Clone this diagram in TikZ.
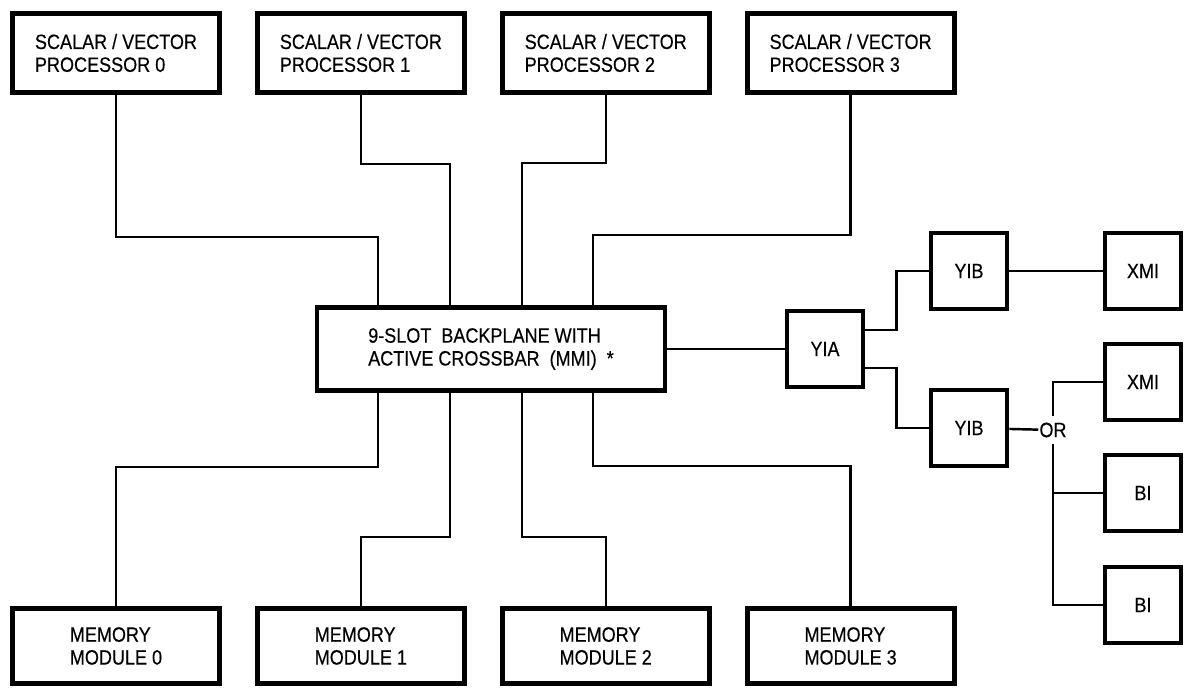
\documentclass[tikz,border=0pt]{standalone}
\usepackage{fontspec}
\setmainfont{Liberation Sans}[FakeStretch=0.87, FakeBold=0.35]
\usetikzlibrary{positioning}
\tikzset{
  % Processor and memory blocks
  unitbox/.style={
    rectangle, draw=black, line width=2.8pt, minimum width=4.14cm, minimum height=#1,
    align=left, font=\fontsize{11.8}{13}\selectfont, inner sep=2pt
  },
  unitbox/.default=1.58cm,
  % Backplane block
  busbox/.style={
    rectangle, draw=black, line width=2.8pt, minimum width=6.96cm, minimum height=1.66cm,
    align=left, font=\fontsize{11.8}{13}\selectfont
  },
  % Small adapter blocks
  adapter/.style={
    rectangle, draw=black, line width=2.8pt, minimum width=1.52cm, minimum height=1.52cm,
    font=\fontsize{11.8}{13}\selectfont, inner sep=1pt
  },
  wire/.style={line width=1.4pt, black},
  orlabel/.style={font=\fontsize{11.8}{13}\selectfont, inner sep=0.5pt}
}

\begin{document}
\begin{tikzpicture}[x=0.02cm, y=-0.02cm]
  \useasboundingbox (0,0) rectangle (1187,688);

  % Processors
  \node[unitbox] (p0) at (116,53) {SCALAR / VECTOR\\PROCESSOR 0};
  \node[unitbox, right=0.66cm of p0] (p1) {SCALAR / VECTOR\\PROCESSOR 1};
  \node[unitbox, right=0.66cm of p1] (p2) {SCALAR / VECTOR\\PROCESSOR 2};
  \node[unitbox, right=0.66cm of p2] (p3) {SCALAR / VECTOR\\PROCESSOR 3};

  % Memory modules
  \node[unitbox=1.5cm] (m0) at (116,646) {MEMORY\\MODULE 0};
  \node[unitbox=1.5cm, right=0.66cm of m0] (m1) {MEMORY\\MODULE 1};
  \node[unitbox=1.5cm, right=0.66cm of m1] (m2) {MEMORY\\MODULE 2};
  \node[unitbox=1.5cm, right=0.66cm of m2] (m3) {MEMORY\\MODULE 3};

  % Backplane
  \node[busbox] (bp) at (491,349) {9-SLOT\ \ BACKPLANE WITH\\ACTIVE CROSSBAR\ \ (MMI)\ \ *};

  % I/O adapters
  \node[adapter] (yia) at (825,349) {YIA};
  \node[adapter] (yib1) at (969,271) {YIB};
  \node[adapter] (yib2) at (969,428) {YIB};
  \node[adapter] (xmi1) at (1143,271) {XMI};
  \node[adapter] (xmi2) at (1143,382) {XMI};
  \node[adapter] (bi1) at (1143,493) {BI};
  \node[adapter] (bi2) at (1143,605) {BI};
  \node[orlabel] (or) at (1053,430) {OR};

  % Slot taps on the backplane
  \foreach \x [count=\i from 0] in {378,450,522,593} {
    \coordinate (bt\i) at (\x,0 |- bp.north);
    \coordinate (bb\i) at (\x,0 |- bp.south);
  }

  % Processors to backplane
  \draw[wire] (p0.south) |- (bt0 |- 0,237) -- (bt0);
  \draw[wire] (p1.south) |- (bt1 |- 0,164) -- (bt1);
  \draw[wire] (p2.south) |- (bt2 |- 0,163) -- (bt2);
  \draw[wire] (p3.south) |- (bt3 |- 0,235) -- (bt3);

  % Backplane to memories
  \draw[wire] (bb0) |- (m0.north |- 0,467) -- (m0.north);
  \draw[wire] (bb1) |- (m1.north |- 0,537) -- (m1.north);
  \draw[wire] (bb2) |- (m2.north |- 0,537) -- (m2.north);
  \draw[wire] (bb3) |- (m3.north |- 0,466) -- (m3.north);

  % I/O side
  \draw[wire] (bp) -- (yia);
  \draw[wire] ([yshift=0.38cm]yia.east) -- ++(31,0) |- (yib1.west);
  \draw[wire] ([yshift=-0.38cm]yia.east) -- ++(31,0) |- (yib2.west);
  \draw[wire] (yib1) -- (xmi1);
  \draw[wire] (yib2) -- (or);
  \draw[wire] ([yshift=3pt]or.north) |- (xmi2.west);
  \draw[wire] ([yshift=-3pt]or.south) |- (bi1.west);
  \draw[wire] ([yshift=-3pt]or.south) |- (bi2.west);
\end{tikzpicture}
\end{document}
